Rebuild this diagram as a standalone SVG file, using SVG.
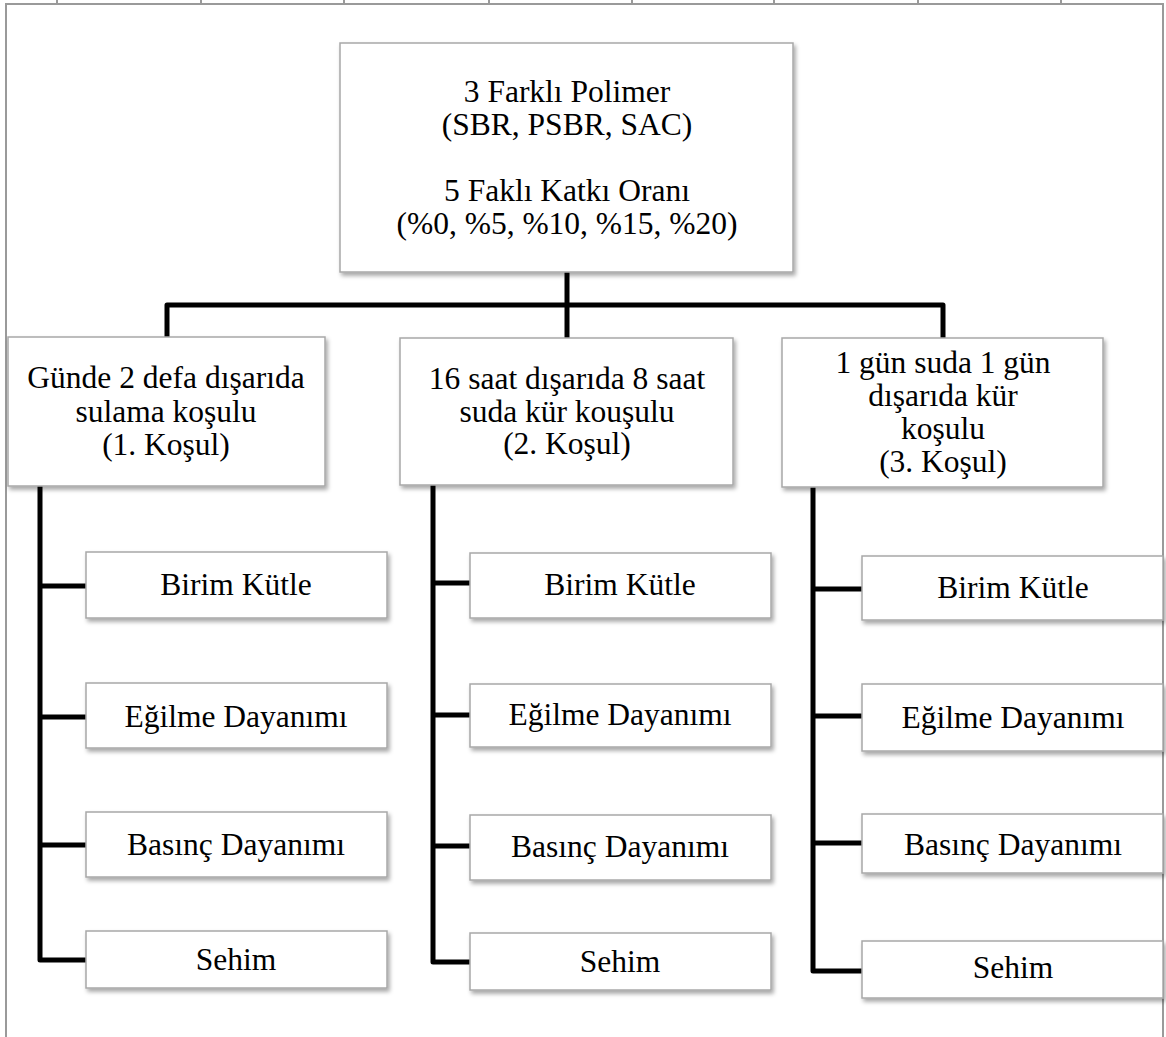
<svg xmlns="http://www.w3.org/2000/svg" width="1166" height="1037" viewBox="0 0 1166 1037">
<defs>
<filter id="sh" x="-5%" y="-5%" width="112%" height="120%">
<feDropShadow dx="2" dy="3" stdDeviation="2" flood-color="#000" flood-opacity="0.35"/>
</filter>
<style>
.frame{stroke:#9a9a9a;stroke-width:2;fill:none}
.box{fill:#fff;stroke:#a8a8a8;stroke-width:1.5;filter:url(#sh)}
.t{font-family:'Liberation Serif','DejaVu Serif',serif;font-size:31.5px;fill:#000;text-anchor:middle}
.c{stroke:#000;stroke-width:5;fill:none;stroke-linejoin:round;stroke-linecap:butt}
</style>
</defs>
<rect width="1166" height="1037" fill="#fff"/>
<g id="frame">
<path class="frame" d="M6 1037 V4 H1163 V1037"/>
<path class="frame" stroke-width="1" d="M57 0V4M201 0V4M344 0V4M489 0V4M632 0V4M774 0V4M918 0V4M1061 0V4"/>
</g>
<g id="connectors">
<path class="c" d="M567 272 V305"/>
<path class="c" d="M167 337 V305 H943 V338"/>
<path class="c" d="M567 305 V338"/>
<path class="c" d="M40 486 V960 H86 M40 586 H86 M40 717 H86 M40 845 H86"/>
<path class="c" d="M433 485 V962 H470 M433 583 H470 M433 715 H470 M433 846 H470"/>
<path class="c" d="M813 487 V971 H862 M813 589 H862 M813 716 H862 M813 843 H862"/>
</g>
<g font-family="Liberation Serif, serif">
<g id="root">
<rect class="box" x="340" y="43" width="453" height="229"/>
<text class="t" x="567" y="102">3 Farklı Polimer</text>
<text class="t" x="567" y="135">(SBR, PSBR, SAC)</text>
<text class="t" x="567" y="201">5 Faklı Katkı Oranı</text>
<text class="t" x="567" y="234">(%0, %5, %10, %15, %20)</text>
</g>
<g id="cond1">
<rect class="box" x="8" y="337" width="317" height="149"/>
<text class="t" x="166" y="388">Günde 2 defa dışarıda</text>
<text class="t" x="166" y="422">sulama koşulu</text>
<text class="t" x="166" y="455">(1. Koşul)</text>
</g>
<g id="cond2">
<rect class="box" x="400" y="338" width="333" height="147"/>
<text class="t" x="567" y="389">16 saat dışarıda 8 saat</text>
<text class="t" x="567" y="422">suda kür kouşulu</text>
<text class="t" x="567" y="454">(2. Koşul)</text>
</g>
<g id="cond3">
<rect class="box" x="782" y="338" width="321" height="149"/>
<text class="t" x="943" y="373">1 gün suda 1 gün</text>
<text class="t" x="943" y="406">dışarıda kür</text>
<text class="t" x="943" y="439">koşulu</text>
<text class="t" x="943" y="472">(3. Koşul)</text>
</g>
<g id="c1-birim"><rect class="box" x="86" y="552" width="301" height="66"/><text class="t" x="236" y="595">Birim Kütle</text></g>
<g id="c1-egilme"><rect class="box" x="86" y="683" width="301" height="65"/><text class="t" x="236" y="727">Eğilme Dayanımı</text></g>
<g id="c1-basinc"><rect class="box" x="86" y="812" width="301" height="65"/><text class="t" x="236" y="855">Basınç Dayanımı</text></g>
<g id="c1-sehim"><rect class="box" x="86" y="931" width="301" height="57"/><text class="t" x="236" y="970">Sehim</text></g>
<g id="c2-birim"><rect class="box" x="470" y="553" width="301" height="65"/><text class="t" x="620" y="595">Birim Kütle</text></g>
<g id="c2-egilme"><rect class="box" x="470" y="684" width="301" height="63"/><text class="t" x="620" y="725">Eğilme Dayanımı</text></g>
<g id="c2-basinc"><rect class="box" x="470" y="815" width="301" height="65"/><text class="t" x="620" y="857">Basınç Dayanımı</text></g>
<g id="c2-sehim"><rect class="box" x="470" y="933" width="301" height="57"/><text class="t" x="620" y="972">Sehim</text></g>
<g id="c3-birim"><rect class="box" x="862" y="556" width="301" height="64"/><text class="t" x="1013" y="598">Birim Kütle</text></g>
<g id="c3-egilme"><rect class="box" x="862" y="684" width="301" height="67"/><text class="t" x="1013" y="728">Eğilme Dayanımı</text></g>
<g id="c3-basinc"><rect class="box" x="862" y="814" width="301" height="59"/><text class="t" x="1013" y="855">Basınç Dayanımı</text></g>
<g id="c3-sehim"><rect class="box" x="862" y="941" width="301" height="57"/><text class="t" x="1013" y="978">Sehim</text></g>
</g>
</svg>
